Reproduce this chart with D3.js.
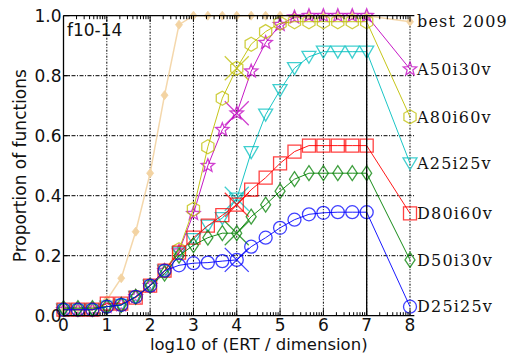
<!DOCTYPE html>
<html>
<head>
<meta charset="utf-8">
<script src="https://cdn.jsdelivr.net/npm/d3@7"></script>
<style>
  body { margin: 0; background: #fff; }
  .sans { font-family: "DejaVu Sans", sans-serif; }
  .serif { font-family: "DejaVu Serif", serif; }
</style>
</head>
<body>
<svg id="chart" width="513" height="356"></svg>
<script>
// log10 of (ERT / dimension) at which each curve is sampled
const xPos = [0, 0.333, 0.667, 1, 1.333, 1.667, 2, 2.333, 2.667, 3, 3.333, 3.667,
              4, 4.333, 4.667, 5, 5.333, 5.667, 6, 6.333, 6.667, 7];
const xEnd = 8;

// proportion of functions solved, one array per algorithm
const best2009 = [0.02, 0.025, 0.03, 0.053, 0.125, 0.28, 0.475, 0.735, 0.97, 1, 1, 1,
                  1, 1, 1, 1, 1, 1, 1, 1, 1, 1];
const a50i30v  = [0.02, 0.02, 0.02, 0.03, 0.036, 0.063, 0.1, 0.15, 0.215, 0.34, 0.5, 0.62,
                  0.675, 0.815, 0.91, 0.97, 0.995, 1, 1, 1, 1, 1];
const a80i60v  = [0.02, 0.02, 0.02, 0.03, 0.036, 0.063, 0.1, 0.15, 0.22, 0.355, 0.563, 0.725,
                  0.825, 0.905, 0.947, 0.975, 0.98, 0.98, 0.98, 0.98, 0.98, 0.98];
const a25i25v  = [0.02, 0.02, 0.02, 0.03, 0.036, 0.063, 0.1, 0.15, 0.21, 0.255, 0.3, 0.325,
                  0.39, 0.545, 0.67, 0.752, 0.825, 0.863, 0.88, 0.88, 0.88, 0.88];
const d80i60v  = [0.02, 0.02, 0.02, 0.04, 0.04, 0.06, 0.1, 0.15, 0.21, 0.26, 0.3, 0.335,
                  0.37, 0.42, 0.46, 0.508, 0.547, 0.567, 0.567, 0.567, 0.567, 0.567];
const d50i30v  = [0.025, 0.025, 0.025, 0.03, 0.036, 0.063, 0.1, 0.14, 0.2, 0.235, 0.26, 0.275,
                  0.275, 0.33, 0.37, 0.415, 0.455, 0.475, 0.475, 0.475, 0.475, 0.475];
const d25i25v  = [0.02, 0.02, 0.02, 0.03, 0.036, 0.063, 0.1, 0.15, 0.168, 0.175, 0.177, 0.182,
                  0.186, 0.23, 0.26, 0.293, 0.32, 0.338, 0.343, 0.345, 0.345, 0.345];

const seriesNames = ["best 2009", "A50i30v", "A80i60v", "A25i25v", "D80i60v", "D50i30v", "D25i25v"];
// value drawn at the right edge, next to each name
const endValues = [0.98, 0.822, 0.663, 0.508, 0.341, 0.186, 0.03];
// median maximum number of evaluations (log10 of evals / dim), marked with a cross
const crossAt = [null, 4, 4, 4, 4, 4, 4];

const xTicks = [0, 1, 2, 3, 4, 5, 6, 7, 8];
const yTicks = [0, 0.2, 0.4, 0.6, 0.8, 1.0];
const maxEvalsLine = 7;
const panelLabel = "f10-14";

const styles = [
  { color: "#f3d3a2", marker: "smalldiamond", width: 1.5 },
  { color: "#c000c0", marker: "star", width: 1 },
  { color: "#bfbf00", marker: "hexagon", width: 1 },
  { color: "#00bfbf", marker: "triangledown", width: 1 },
  { color: "#ff0000", marker: "square", width: 1 },
  { color: "#008000", marker: "diamond", width: 1 },
  { color: "#0000ff", marker: "circle", width: 1 }
];
const seriesValues = [best2009, a50i30v, a80i60v, a25i25v, d80i60v, d50i30v, d25i25v];

const series = seriesNames.map((name, i) => ({
  name,
  points: xPos.map((x, j) => [x, seriesValues[i][j]]).concat([[xEnd, endValues[i]]]),
  cross: crossAt[i],
  ...styles[i]
}));

const svg = d3.select("#chart");
const x = d3.scaleLinear().domain([0, 8]).range([63.5, 410]);
const y = d3.scaleLinear().domain([0, 1]).range([315.7, 15.7]);
const xRight = x(8.1);

// marker outlines, centred on the origin
function markerPath(kind) {
  const p = d3.path();
  if (kind === "circle") {
    p.arc(0, 0, 6.5, 0, 2 * Math.PI); p.closePath();
  } else if (kind === "square") {
    p.rect(-6.5, -6.5, 13, 13);
  } else if (kind === "triangledown") {
    p.moveTo(-7, -5.5); p.lineTo(7, -5.5); p.lineTo(0, 6.5); p.closePath();
  } else if (kind === "diamond") {
    p.moveTo(0, -7.5); p.lineTo(5, 0); p.lineTo(0, 7.5); p.lineTo(-5, 0); p.closePath();
  } else if (kind === "smalldiamond") {
    p.moveTo(0, -4.5); p.lineTo(3.5, 0); p.lineTo(0, 4.5); p.lineTo(-3.5, 0); p.closePath();
  } else if (kind === "hexagon") {
    for (let k = 0; k < 6; k++) {
      const a = -Math.PI / 2 + k * Math.PI / 3;
      const px = 7 * Math.cos(a), py = 7 * Math.sin(a);
      if (k === 0) p.moveTo(px, py); else p.lineTo(px, py);
    }
    p.closePath();
  } else if (kind === "star") {
    for (let k = 0; k < 10; k++) {
      const r = k % 2 === 0 ? 7 : 3;
      const a = -Math.PI / 2 + k * Math.PI / 5;
      const px = r * Math.cos(a), py = r * Math.sin(a);
      if (k === 0) p.moveTo(px, py); else p.lineTo(px, py);
    }
    p.closePath();
  }
  return p.toString();
}

// grid
const grid = svg.append("g");
grid.selectAll("line.v").data(xTicks.filter(d => d > 0)).join("line")
  .attr("x1", d => x(d)).attr("x2", d => x(d))
  .attr("y1", y(0)).attr("y2", y(1))
  .attr("stroke", "#000").attr("stroke-width", 1)
  .attr("stroke-dasharray", "2,1.5,1,1.5");
grid.selectAll("line.h").data(yTicks.filter(d => d > 0 && d < 1)).join("line")
  .attr("x1", x(0)).attr("x2", xRight)
  .attr("y1", d => y(d)).attr("y2", d => y(d))
  .attr("stroke", "#000").attr("stroke-width", 1)
  .attr("stroke-dasharray", "4,1.5,1,1.5");

// curves
const line = d3.line().x(d => x(d[0])).y(d => y(d[1]));
const curves = svg.append("g");
series.forEach(s => {
  const g = curves.append("g");
  g.append("path").attr("d", line(s.points))
    .attr("fill", "none").attr("stroke", s.color).attr("stroke-width", s.width)
    .attr("stroke-opacity", 0.9);
  const filled = s.marker === "smalldiamond";
  g.selectAll("path.m").data(s.points).join("path")
    .attr("transform", d => `translate(${x(d[0])},${y(d[1])})`)
    .attr("d", markerPath(s.marker))
    .attr("fill", filled ? s.color : "none")
    .attr("stroke", s.color)
    .attr("stroke-width", filled ? 0.8 : 1.3)
    .attr("stroke-opacity", filled ? 1 : 0.75);
  if (s.cross !== null) {
    const j = xPos.indexOf(s.cross);
    const cx = x(s.cross), cy = y(s.points[j][1]);
    const h = 12;
    g.append("path")
      .attr("d", `M${cx - h},${cy - h}L${cx + h},${cy + h}M${cx - h},${cy + h}L${cx + h},${cy - h}`)
      .attr("stroke", s.color).attr("stroke-width", 1.3).attr("stroke-opacity", 0.75);
  }
});

// maximum evaluations line
svg.append("line")
  .attr("x1", x(maxEvalsLine)).attr("x2", x(maxEvalsLine))
  .attr("y1", y(0)).attr("y2", y(1))
  .attr("stroke", "#000").attr("stroke-width", 1.3);

// spines
const axes = svg.append("g").attr("stroke", "#000").attr("stroke-width", 1.3);
axes.append("line").attr("x1", x(0)).attr("x2", x(0)).attr("y1", y(0)).attr("y2", y(1));
axes.append("line").attr("x1", x(0)).attr("x2", xRight).attr("y1", y(1)).attr("y2", y(1));
axes.append("line").attr("x1", x(0)).attr("x2", xRight).attr("y1", y(0)).attr("y2", y(0));

// ticks: majors on integers, minor ticks at log positions 2..9 of each decade
const minor = [];
for (let dec = 0; dec < 8; dec++) {
  for (let k = 2; k <= 9; k++) minor.push(dec + Math.log10(k));
}
const tickG = svg.append("g").attr("stroke", "#000").attr("stroke-width", 1);
[y(0), y(1)].forEach((yy, side) => {
  const dir = side === 0 ? -1 : 1;
  tickG.selectAll(null).data(xTicks).join("line")
    .attr("x1", d => x(d)).attr("x2", d => x(d))
    .attr("y1", yy).attr("y2", yy + dir * 6);
  tickG.selectAll(null).data(minor).join("line")
    .attr("x1", d => x(d)).attr("x2", d => x(d))
    .attr("y1", yy).attr("y2", yy + dir * 3.5);
});
tickG.selectAll(null).data(yTicks).join("line")
  .attr("x1", x(0)).attr("x2", x(0) + 6)
  .attr("y1", d => y(d)).attr("y2", d => y(d));

// tick labels
svg.append("g").attr("class", "sans").selectAll("text").data(xTicks).join("text")
  .attr("x", d => x(d)).attr("y", 331)
  .attr("text-anchor", "middle").attr("font-size", 17).attr("fill", "#111")
  .text(d => d);
svg.append("g").attr("class", "sans").selectAll("text").data(yTicks).join("text")
  .attr("x", 61.5).attr("y", d => y(d)).attr("dy", "0.36em")
  .attr("text-anchor", "end").attr("font-size", 17).attr("fill", "#111")
  .text(d => d.toFixed(1));

// axis titles
svg.append("text").attr("class", "sans")
  .attr("x", (x(0) + x(8)) / 2 + 22).attr("y", 350)
  .attr("text-anchor", "middle").attr("font-size", 16.5).attr("fill", "#111")
  .text("log10 of (ERT / dimension)");
svg.append("text").attr("class", "sans")
  .attr("transform", `translate(26,${(y(0) + y(1)) / 2}) rotate(-90)`)
  .attr("text-anchor", "middle").attr("font-size", 17).attr("fill", "#111")
  .text("Proportion of functions");

// panel label
svg.append("text").attr("class", "sans").attr("x", 67).attr("y", 36)
  .attr("font-size", 17).attr("fill", "#111").text(panelLabel);

// algorithm names at the right end of each curve
svg.append("g").attr("class", "serif").selectAll("text").data(series).join("text")
  .attr("x", x(xEnd) + 7).attr("y", d => y(d.points[d.points.length - 1][1]))
  .attr("dy", "0.36em")
  .attr("font-size", 16).attr("letter-spacing", 1.2).attr("fill", "#111")
  .text(d => d.name);
</script>
</body>
</html>
